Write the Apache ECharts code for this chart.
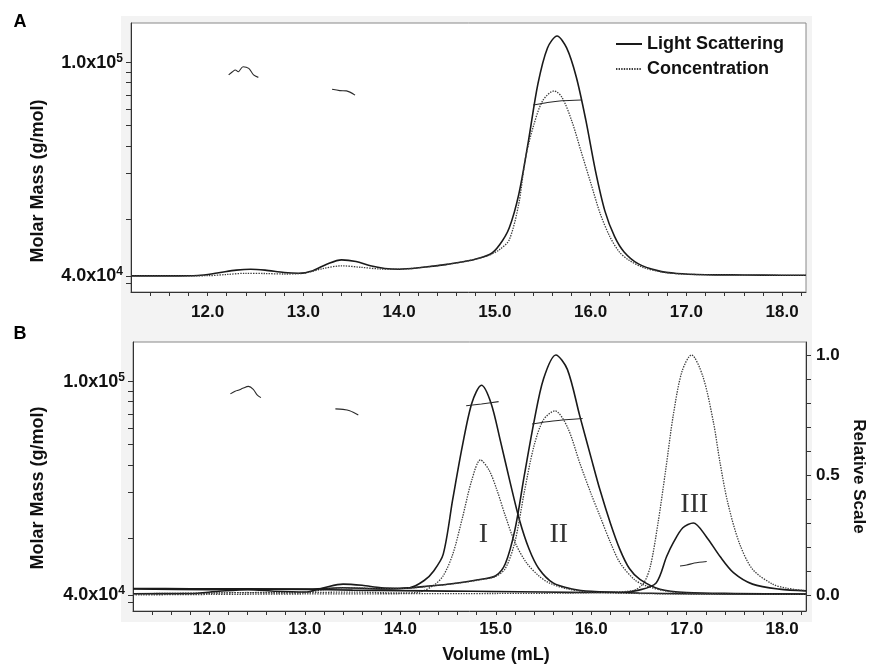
<!DOCTYPE html>
<html>
<head>
<meta charset="utf-8">
<title>SEC-MALS</title>
<script src="https://cdn.jsdelivr.net/npm/echarts@6.0.0/dist/echarts.min.js"></script>
<style>
  html, body { margin: 0; padding: 0; background: #fff; }
  #chart { width: 869px; height: 664px; }
</style>
</head>
<body>
<div id="chart"></div>
<script>
// axis ticks / labels
const xLabelVals = [12, 13, 14, 15, 16, 17, 18];
const relLabelVals = [0, 0.5, 1];
const relTickVals = [0, 0.1, 0.2, 0.3, 0.4, 0.5, 0.6, 0.7, 0.8, 0.9, 1];
const mmLabelVals = [40000, 100000];
const mmTickVals = [38770, 40000, 51090, 62330, 69930, 76500, 81860, 87030, 91770, 96080, 100000];
const xTickVals = [];
for (let v = 11.4; v < 18.25; v += 0.2) xTickVals.push(+v.toFixed(1));

// panel A: [volume mL, relative scale]
const aLS = [[11.2,0],[11.6,0],[11.9,0.002],[12.1,0.012],[12.3,0.024],[12.45,0.028],[12.6,0.024],[12.8,0.014],
  [12.95,0.011],[13.1,0.022],[13.25,0.05],[13.4,0.067],[13.55,0.06],[13.7,0.042],[13.85,0.031],[14.0,0.028],
  [14.25,0.036],[14.5,0.048],[14.75,0.065],[14.95,0.09],[15.05,0.13],[15.15,0.2],[15.25,0.34],[15.35,0.56],
  [15.45,0.8],[15.55,0.95],[15.65,1.0],[15.75,0.95],[15.85,0.83],[15.95,0.65],[16.05,0.44],[16.15,0.27],
  [16.25,0.165],[16.35,0.1],[16.5,0.05],[16.7,0.022],[16.9,0.01],[17.2,0.005],[17.6,0.004],[18.0,0.003],[18.25,0.003]];
const aConc = [[11.2,0],[12.0,0.001],[12.2,0.006],[12.4,0.011],[12.6,0.01],[12.8,0.008],[13.0,0.011],[13.2,0.03],
  [13.4,0.042],[13.6,0.036],[13.8,0.029],[14.0,0.028],[14.25,0.036],[14.5,0.048],[14.75,0.065],[14.95,0.088],
  [15.05,0.11],[15.15,0.15],[15.25,0.3],[15.32,0.49],[15.4,0.62],[15.5,0.73],[15.62,0.771],[15.7,0.745],
  [15.8,0.65],[15.9,0.52],[16.0,0.39],[16.1,0.26],[16.2,0.165],[16.3,0.1],[16.4,0.066],[16.55,0.035],
  [16.75,0.016],[17.0,0.007],[17.5,0.004],[18.25,0.002]];
// panel A: [volume mL, molar mass g/mol]
const aMM1 = [[12.22,94900],[12.26,96200],[12.29,96900],[12.32,96200],[12.37,98300],[12.43,97600],[12.48,94900],[12.53,93900]];
const aMM2 = [[13.30,89200],[13.38,88700],[13.45,88600],[13.54,87000]];
const aMM3 = [[15.40,83400],[15.55,84300],[15.7,84900],[15.9,85200]];

// panel B: [volume mL, relative scale]
const bLS1 = [[11.2,0.025],[12.0,0.022],[12.5,0.024],[13.0,0.024],[13.4,0.03],[13.8,0.025],[14.1,0.03],[14.25,0.06],
  [14.35,0.1],[14.45,0.17],[14.55,0.4],[14.65,0.62],[14.75,0.8],[14.85,0.874],[14.95,0.8],[15.05,0.64],[15.15,0.47],
  [15.25,0.31],[15.35,0.19],[15.45,0.11],[15.6,0.05],[15.8,0.025],[16.0,0.015],[16.5,0.008],[17.0,0.005],[18.25,0.003]];
const bConc1 = [[11.2,0.005],[12.0,0.008],[12.5,0.01],[13.0,0.01],[13.5,0.012],[14.0,0.008],[14.2,0.012],[14.35,0.04],
  [14.45,0.08],[14.55,0.17],[14.65,0.32],[14.75,0.48],[14.84,0.5625],[14.93,0.52],[15.01,0.44],[15.1,0.33],[15.2,0.22],
  [15.32,0.135],[15.45,0.08],[15.56,0.05],[15.75,0.025],[16.0,0.012],[16.5,0.006],[17.0,0.004],[18.25,0.002]];
const bLS2 = [[11.2,0.005],[11.8,0.006],[12.1,0.015],[12.4,0.022],[12.7,0.015],[13.0,0.012],[13.2,0.03],[13.4,0.045],
  [13.6,0.04],[13.8,0.03],[14.0,0.028],[14.3,0.037],[14.6,0.05],[14.85,0.065],[15.0,0.08],[15.1,0.13],[15.2,0.27],
  [15.3,0.5],[15.4,0.72],[15.5,0.9],[15.63,1.0],[15.75,0.94],[15.88,0.746],[16.0,0.57],[16.09,0.44],[16.2,0.3],
  [16.3,0.19],[16.4,0.11],[16.51,0.065],[16.72,0.024],[17.0,0.01],[17.5,0.006],[18.25,0.004]];
const bConc2 = [[11.2,0.003],[11.8,0.004],[12.1,0.008],[12.4,0.01],[12.7,0.008],[13.0,0.01],[13.2,0.022],[13.4,0.03],
  [13.6,0.028],[13.8,0.027],[14.0,0.027],[14.3,0.036],[14.6,0.049],[14.85,0.064],[15.0,0.078],[15.1,0.11],[15.2,0.22],
  [15.3,0.43],[15.4,0.62],[15.5,0.73],[15.62,0.767],[15.75,0.7],[15.88,0.55],[16.0,0.42],[16.09,0.33],[16.2,0.22],
  [16.3,0.135],[16.45,0.065],[16.58,0.037],[16.8,0.015],[17.0,0.008],[17.5,0.004],[18.25,0.002]];
const bLS3 = [[11.2,0.027],[11.8,0.026],[12.4,0.025],[13.0,0.023],[13.5,0.02],[14.0,0.018],[14.5,0.016],[15.0,0.014],
  [15.5,0.012],[16.0,0.01],[16.3,0.01],[16.5,0.02],[16.68,0.05],[16.79,0.16],[16.86,0.218],[16.96,0.28],[17.07,0.30],
  [17.2,0.246],[17.35,0.16],[17.49,0.093],[17.69,0.045],[17.97,0.024],[18.25,0.017]];
const bConc3 = [[11.2,0],[12.0,0.002],[13.0,0.004],[14.0,0.005],[15.0,0.006],[15.8,0.008],[16.2,0.012],[16.45,0.02],
  [16.55,0.05],[16.62,0.12],[16.7,0.3],[16.78,0.52],[16.86,0.75],[16.95,0.93],[17.05,1.0],[17.17,0.91],[17.28,0.72],
  [17.35,0.55],[17.43,0.385],[17.55,0.218],[17.69,0.107],[17.9,0.045],[18.05,0.028],[18.25,0.017]];
// panel B: [volume mL, molar mass g/mol]
const bMM1 = [[12.22,94900],[12.27,96000],[12.31,96500],[12.35,97200],[12.41,98000],[12.46,96800],[12.5,94500],[12.54,93400]];
const bMM2 = [[13.32,89000],[13.4,88800],[13.47,88300],[13.56,86700]];
const bMM3 = [[14.69,90200],[14.85,90900],[15.03,91800]];
const bMM4 = [[15.38,83400],[15.6,84500],[15.91,85400]];
const bMM5 = [[16.93,45300],[17.0,45500],[17.08,45900],[17.21,46200]];

// peak tags: [text, volume, relative]
const peakTags = [['I', 14.87, 0.25], ['II', 15.66, 0.25], ['III', 17.08, 0.375]];

const FONT = 'Liberation Sans';
const lsLine = { color: '#1a1a1a', width: 1.6, type: 'solid' };
const concLine = { color: '#3c3c3c', width: 1.3, type: [1.4, 1.2] };
const mmLine = { color: '#2a2a2a', width: 1.1, type: 'solid' };

function curve(name, data, xi, yi, line) {
  return {
    name: name, type: 'line', xAxisIndex: xi, yAxisIndex: yi, data: data,
    symbol: 'none', showSymbol: false, smooth: 0.3,
    lineStyle: line, itemStyle: { color: line.color }, silent: true, z: 3
  };
}

function mmLabel(v) {
  const e = Math.floor(Math.log10(v) + 1e-9);
  const m = v / Math.pow(10, e);
  return '{m|' + m.toFixed(1) + 'x10}{s|' + e + '}';
}

function xAxisFor(gi, margin) {
  return {
    type: 'value', gridIndex: gi, min: 11.2, max: 18.25,
    axisLine: { onZero: false, lineStyle: { color: '#333', width: 1 } },
    axisTick: { customValues: xTickVals, length: 4, lineStyle: { color: '#333' } },
    axisLabel: { customValues: xLabelVals, formatter: v => v.toFixed(1), fontFamily: FONT,
      fontSize: 17, fontWeight: 'bold', color: '#111', margin: margin },
    splitLine: { show: false }
  };
}

function mmAxisFor(gi) {
  return {
    type: 'log', logBase: 10, gridIndex: gi, min: 37350, max: 118600, position: 'left',
    axisLine: { show: true, onZero: false, lineStyle: { color: '#333', width: 1 } },
    axisTick: { show: true, customValues: mmTickVals, length: 5, lineStyle: { color: '#333' } },
    axisLabel: { customValues: mmLabelVals, formatter: mmLabel, margin: 8,
      rich: {
        m: { fontFamily: FONT, fontSize: 18, fontWeight: 'bold', color: '#111', lineHeight: 20 },
        s: { fontFamily: FONT, fontSize: 12, fontWeight: 'bold', color: '#111', verticalAlign: 'top', lineHeight: 20 }
      } },
    splitLine: { show: false }, minorTick: { show: false }
  };
}

function relAxisFor(gi, visible) {
  return {
    type: 'value', gridIndex: gi, min: -0.067, max: 1.054, position: 'right', show: visible,
    name: visible ? 'Relative Scale' : '', nameLocation: 'middle', nameRotate: -90, nameGap: 42,
    nameTextStyle: { fontFamily: FONT, fontSize: 17, fontWeight: 'bold', color: '#111' },
    axisLine: { show: true, onZero: false, lineStyle: { color: '#333', width: 1 } },
    axisTick: { show: true, customValues: relTickVals, length: 5, lineStyle: { color: '#333' } },
    axisLabel: { customValues: relLabelVals, formatter: v => v.toFixed(1), fontFamily: FONT,
      fontSize: 17, fontWeight: 'bold', color: '#111', margin: 10 },
    splitLine: { show: false }
  };
}

const series = [
  curve('Light Scattering', aLS, 0, 1, lsLine),
  curve('Concentration', aConc, 0, 1, concLine),
  curve('Molar Mass A1', aMM1, 0, 0, mmLine),
  curve('Molar Mass A2', aMM2, 0, 0, mmLine),
  curve('Molar Mass A3', aMM3, 0, 0, mmLine),
  curve('Light Scattering', bLS1, 1, 3, lsLine),
  curve('Concentration', bConc1, 1, 3, concLine),
  curve('Light Scattering', bLS2, 1, 3, lsLine),
  curve('Concentration', bConc2, 1, 3, concLine),
  curve('Light Scattering', bLS3, 1, 3, lsLine),
  curve('Concentration', bConc3, 1, 3, concLine),
  curve('Molar Mass B1', bMM1, 1, 2, mmLine),
  curve('Molar Mass B2', bMM2, 1, 2, mmLine),
  curve('Molar Mass B3', bMM3, 1, 2, mmLine),
  curve('Molar Mass B4', bMM4, 1, 2, mmLine),
  curve('Molar Mass B5', bMM5, 1, 2, mmLine),
  {
    type: 'scatter', xAxisIndex: 1, yAxisIndex: 3, symbolSize: 0, silent: true, z: 5,
    data: peakTags.map(p => ({ name: p[0], value: [p[1], p[2]] })),
    label: { show: true, position: 'inside', formatter: '{b}', fontFamily: 'Liberation Serif',
      fontSize: 28, color: '#000' }
  }
];

const chart = echarts.init(document.getElementById('chart'));
chart.setOption({
  animation: false,
  backgroundColor: '#fff',
  grid: [
    { left: 131, top: 23, width: 675, height: 269, show: true, backgroundColor: '#fff', borderColor: '#888', borderWidth: 1,
      containLabel: false, outerBoundsMode: 'none' },
    { left: 133, top: 342, width: 673, height: 269, show: true, backgroundColor: '#fff', borderColor: '#888', borderWidth: 1,
      containLabel: false, outerBoundsMode: 'none' }
  ],
  xAxis: [xAxisFor(0, 12), xAxisFor(1, 10)],
  yAxis: [mmAxisFor(0), relAxisFor(0, false), mmAxisFor(1), relAxisFor(1, true)],
  legend: {
    data: ['Light Scattering', 'Concentration'], orient: 'vertical', left: 610, top: 30,
    itemWidth: 26, itemHeight: 12, itemGap: 7, selectedMode: false,
    itemStyle: { opacity: 0 },
    textStyle: { fontFamily: FONT, fontSize: 18, fontWeight: 'bold', color: '#111' }
  },
  graphic: { elements: [
    { type: 'rect', z: -10, silent: true, shape: { x: 121, y: 16, width: 691, height: 606 }, style: { fill: '#f3f3f3' } },
    { type: 'text', x: 20, y: 22, style: { text: 'A', font: 'bold 18px "Liberation Sans"', fill: '#000', textAlign: 'center', textVerticalAlign: 'middle' } },
    { type: 'text', x: 20, y: 334, style: { text: 'B', font: 'bold 18px "Liberation Sans"', fill: '#000', textAlign: 'center', textVerticalAlign: 'middle' } },
    { type: 'text', x: 38, y: 181, rotation: Math.PI / 2, style: { text: 'Molar Mass (g/mol)', font: 'bold 18px "Liberation Sans"', fill: '#111', textAlign: 'center', textVerticalAlign: 'middle' } },
    { type: 'text', x: 38, y: 488, rotation: Math.PI / 2, style: { text: 'Molar Mass (g/mol)', font: 'bold 18px "Liberation Sans"', fill: '#111', textAlign: 'center', textVerticalAlign: 'middle' } },
    { type: 'text', x: 496, y: 655, style: { text: 'Volume (mL)', font: 'bold 18px "Liberation Sans"', fill: '#111', textAlign: 'center', textVerticalAlign: 'middle' } }
  ] },
  series: series
});
</script>
</body>
</html>
